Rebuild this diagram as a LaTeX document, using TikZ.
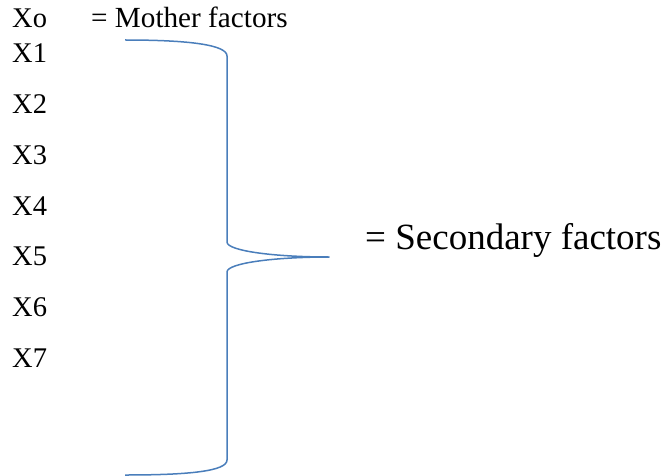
\documentclass[tikz,border=0pt]{standalone}
\usepackage{fontspec}
\setmainfont{Liberation Serif}
\usepackage{tikz}
\definecolor{braceblue}{RGB}{74,126,187}

\begin{document}
\begin{tikzpicture}[x=1pt,y=-1pt,
    every node/.style={inner sep=0pt,anchor=base west,font=\fontsize{28.5}{30}\selectfont}]
                \useasboundingbox (0,0) rectangle (666,476);
                \node (x0) at (12,28) {Xo};
                \node[font=\fontsize{29.2}{30}\selectfont] (mother) at (91,28) {= Mother factors};
                \foreach \i [evaluate={\y=63+50.67*(\i-1)}] in {1,...,7}{
                    \node (x\i) at (12,\y) {X\i};
                }
                \node[font=\fontsize{37}{40}\selectfont] (secondary) at (365,249) {= Secondary factors};

                \coordinate (top) at (125,40);
                \coordinate (tip) at (329,257);
                \coordinate (bot) at (125,475);
                \draw[braceblue,line width=1.5pt,line join=round]
                    (top) .. controls (190,40) and (227,45) .. (227,56)
                    -- (227,242) .. controls (227,251) and (275,257) .. (tip)
                    .. controls (275,257) and (227,263) .. (227,272)
                    -- (227,460) .. controls (227,471) and (190,475) .. (bot);
            \end{tikzpicture}
\end{document}
